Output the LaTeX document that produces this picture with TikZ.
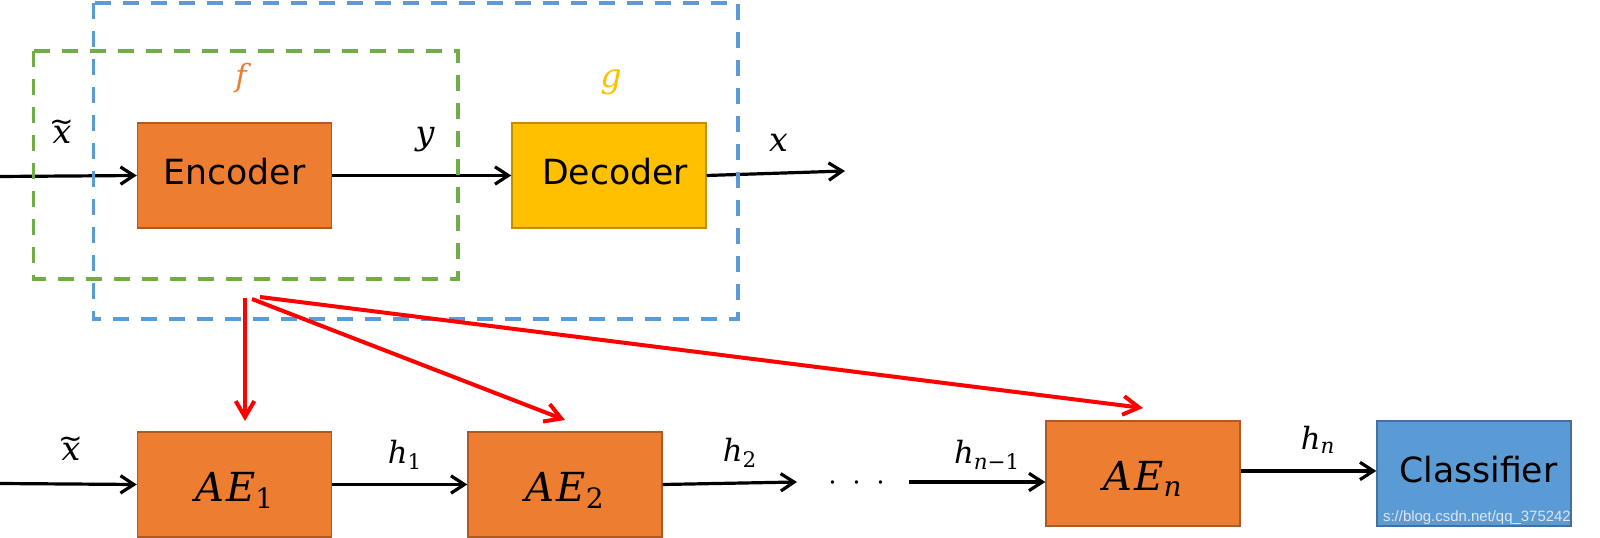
\RequirePackage{fix-cm}
\documentclass[tikz,border=0pt]{standalone}
\usepackage{fontspec}
\newfontfamily\boxfont{DejaVu Sans}
\newfontfamily\lblfont{DejaVu Serif}
\newfontfamily\wmfont{Liberation Sans}
\usetikzlibrary{arrows.meta}
\definecolor{encfill}{HTML}{ED7D31}
\definecolor{encdraw}{HTML}{AE5A21}
\definecolor{decfill}{HTML}{FFC000}
\definecolor{decdraw}{HTML}{BF9000}
\definecolor{clsfill}{HTML}{5B9BD5}
\definecolor{clsdraw}{HTML}{41719C}
\definecolor{frameblue}{HTML}{5B9BD5}
\definecolor{framegreen}{HTML}{70AD47}
\definecolor{flabel}{HTML}{ED7D31}
\definecolor{glabel}{HTML}{FFC000}
\definecolor{wmark}{HTML}{DCE6F0}
\newcommand{\tildeglyph}{{\boxfont\upshape\fontsize{22}{22}\selectfont ∼}}
\newcommand{\tildex}{\leavevmode\vbox{\offinterlineskip\halign{\hfil##\hfil\cr\tildeglyph\cr\noalign{\kern-4pt}x\cr}}}
\begin{document}
\begin{tikzpicture}[x=0.75pt,y=-0.75pt,
  blk/.style={minimum width=145.5pt,minimum height=78.75pt,inner sep=0pt,line width=1.1pt},
  encbox/.style={blk,fill=encfill,draw=encdraw},
  decbox/.style={blk,fill=decfill,draw=decdraw},
  clsbox/.style={blk,fill=clsfill,draw=clsdraw},
  boxtxt/.style={font=\boxfont\fontsize{26}{30}\selectfont,text height=14.2pt,text depth=0pt},
  aetxt/.style={font=\lblfont\itshape\fontsize{30}{36}\selectfont,text height=24.8pt,text depth=0pt},
  flow/.style={draw=black,line width=2.4pt,-{Straight Barb[length=10pt,width=13pt]}},
  redarrow/.style={draw=red,line width=3pt,-{Straight Barb[length=12pt,width=14pt]}},
  frame/.style={line width=2.6pt,dash pattern=on 12pt off 9pt},
  biglbl/.style={inner sep=0pt,font=\lblfont\itshape\fontsize{25}{30}\selectfont},
  hlbl/.style={inner sep=0pt,font=\lblfont\itshape\fontsize{23}{27}\selectfont},
]
\useasboundingbox (0,0) rectangle (1600,538);

% boxes
\node[encbox,boxtxt] (enc) at (234.5,175.5) {Encoder};
\node[decbox,boxtxt] (dec) at (609,175.5) {\hspace{9pt}Decoder};
\node[encbox,aetxt] (ae1) at (234.5,484.5) {A\kern1.5pt E\textsubscript{\upshape 1}};
\node[encbox,aetxt] (ae2) at (565,484.5) {A\kern1.5pt E\textsubscript{\upshape 2}};
\node[encbox,aetxt] (aen) at (1143,473.5) {A\kern1.5pt E\textsubscript{n}};
\node[clsbox,boxtxt] (cls) at (1474,473.5) {\hspace{6.5pt}Classifier};
\node[anchor=base east,inner sep=0pt,text=wmark,font=\wmfont\fontsize{11.2}{13}\selectfont] (wm) at (1571,521) {s://blog.csdn.net/qq\_375242};

% labels
\node[biglbl] (xt1) at (62,132) {\tildex};
\node[biglbl,text=flabel,font=\lblfont\itshape\fontsize{23}{28}\selectfont] (flbl) at (241,78) {f};
\node[biglbl] (ylbl) at (425,140) {y};
\node[biglbl,text=glabel] (glbl) at (611,82) {g};
\node[biglbl] (xlbl) at (778.5,143) {x};
\node[biglbl] (xt2) at (71,449) {\tildex};
\node[hlbl] (h1) at (405,455) {h\textsubscript{\upshape 1}};
\node[hlbl] (h2) at (740,453) {h\textsubscript{\upshape 2}};
\node[hlbl] (hn1) at (987,455) {h\textsubscript{n\upshape −1}};
\node[hlbl] (hn) at (1318,440) {h\textsubscript{n}};
\node[anchor=base,inner sep=0pt,font=\fontsize{24}{29}\selectfont] (dots) at (857,490) {$\cdotp\hskip7.2pt\cdotp\hskip7.2pt\cdotp$};

% coordinates
\coordinate (in1) at (0,176.5);
\coordinate (out1) at (845,171);
\coordinate (in2) at (0,483.5);
\coordinate (h2end) at (797,482);
\coordinate (hn1start) at (909,482);
\coordinate (s1) at (245,298);
\coordinate (t1) at (245,421);
\coordinate (s2) at (252,299);
\coordinate (t2) at (565,420);
\coordinate (s3) at (260,297);
\coordinate (t3) at (1143,408);

% black flow arrows
\draw[flow] (in1) -- (enc.west);
\draw[flow] (enc.east) -- (dec.west);
\draw[flow] (dec.east) -- (out1);
\draw[flow] (in2) -- (ae1.west);
\draw[flow] (ae1.east) -- (ae2.west);
\draw[flow] (ae2.east) -- (h2end);
\draw[flow] (hn1start) -- (hn1start -| aen.west);
\draw[flow] ([yshift=1.9pt]aen.east) -- ([yshift=1.9pt]cls.west);

% dashed frames
\draw[frame,draw=framegreen] (33.7,51) rectangle (458,279);
\draw[frame,draw=frameblue] (93.4,3) rectangle (738,319);

% red arrows
\draw[redarrow] (s1) -- (t1);
\draw[redarrow] (s2) -- (t2);
\draw[redarrow] (s3) -- (t3);
\end{tikzpicture}
\end{document}
